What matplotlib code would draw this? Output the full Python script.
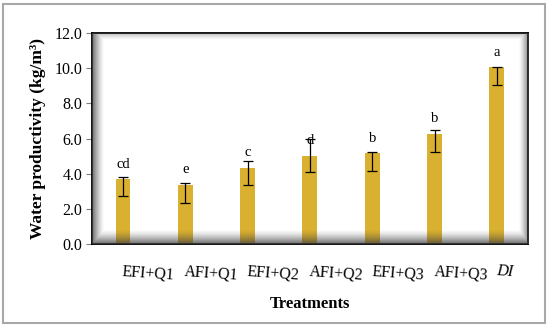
import numpy as np
import matplotlib
matplotlib.use("Agg")
import matplotlib.pyplot as plt
from matplotlib.patches import Rectangle

treatments = ["EFI+Q1", "AFI+Q1", "EFI+Q2", "AFI+Q2", "EFI+Q3", "AFI+Q3", "DI"]
wp = np.array([3.68, 3.35, 4.34, 5.02, 5.15, 6.25, 10.04])
# error bar ends (not symmetric)
err_lo = np.array([2.73, 2.35, 3.35, 4.07, 4.15, 5.24, 9.03])
err_hi = np.array([3.79, 3.48, 4.73, 5.95, 5.24, 6.48, 10.07])
letters = ["cd", "e", "c", "d", "b", "b", "a"]

plt.rcParams['font.family'] = ['Liberation Serif', 'DejaVu Serif']

fig = plt.figure(figsize=(5.5, 3.3), dpi=100)
ax = fig.add_axes([0.167, 0.2606, 0.793, 0.6394])

x = np.arange(len(treatments))
ax.bar(x, wp, width=0.24, color="#DAB030", zorder=2)
ax.errorbar(x, wp, yerr=[wp - err_lo, err_hi - wp], fmt="none",
            ecolor="black", elinewidth=0.9, capsize=3.5, capthick=0.9, zorder=4)

for xi, v, s in zip(x, wp, letters):
    ax.text(xi, v + 0.5, s, ha="center", va="bottom", fontsize=10.5, zorder=5)

ax.set_xlim(-0.5, len(treatments) - 0.5)
ax.set_ylim(0, 12)
ax.set_yticks(np.arange(0, 12.1, 2))
ax.set_yticklabels(["%.1f" % t for t in np.arange(0, 12.1, 2)], fontsize=11.5)
ax.tick_params(axis="y", direction="out", length=4, color="#808080", pad=3)

ax.set_xticks(x)
ax.set_xticklabels(treatments, fontsize=11.5, rotation=-4, ha="left",
                   rotation_mode="anchor")
ax.tick_params(axis="x", length=0, pad=14)
ax.get_xticklabels()[-1].set_style("italic")

for sp in ax.spines.values():
    sp.set_color("black")
    sp.set_linewidth(1.3)

ax.set_xlabel("Treatments", fontsize=12, fontweight="bold", labelpad=9)
ax.set_ylabel("Water productivity (kg/m³)", fontsize=12.5,
              fontweight="bold", labelpad=6)

# inner shadow of the plot frame
h, w = 211, 436
yy, xx = np.mgrid[0:h, 0:w]
d_left = xx
d_right = w - 1 - xx
d_top = yy
d_bot = h - 1 - yy
a = np.zeros((h, w))
a = np.maximum(a, 0.75 * np.clip(1 - d_left / 12.0, 0, 1) ** 1.4)
a = np.maximum(a, 0.75 * np.clip(1 - d_bot / 14.0, 0, 1) ** 1.4)
a = np.maximum(a, 0.65 * np.clip(1 - d_right / 10.0, 0, 1) ** 1.4)
a = np.maximum(a, 0.4 * np.clip(1 - d_top / 8.0, 0, 1) ** 1.4)
img = np.zeros((h, w, 4))
img[..., :3] = 0.25
img[..., 3] = a
ax.imshow(img, extent=(0, 1, 0, 1), transform=ax.transAxes, aspect="auto",
          zorder=3, interpolation="bilinear")
ax.set_xlim(-0.5, len(treatments) - 0.5)
ax.set_ylim(0, 12)

# outer border of the figure
fig.patches.append(Rectangle((3 / 550, 7 / 330), 542 / 550, 319 / 330,
                             transform=fig.transFigure, fill=False,
                             edgecolor="#A8A8A8", linewidth=1.5))

fig.savefig("out.png", dpi=100)
